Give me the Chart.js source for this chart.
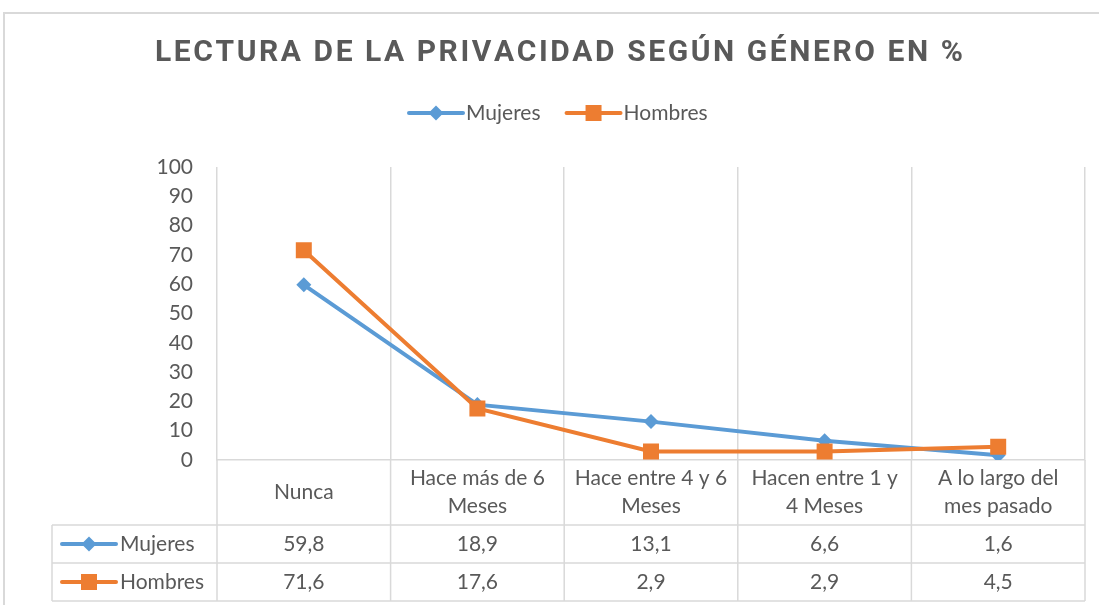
<!DOCTYPE html>
<html>
<head>
<meta charset="utf-8">
<script src="https://cdn.jsdelivr.net/npm/chart.js@4/dist/chart.umd.min.js"></script>
<style>
  body { margin: 0; background: #fff; }
  canvas { display: block; }
</style>
</head>
<body>
<canvas id="privChart" width="1099" height="605"></canvas>
<script>
const titleText = "LECTURA DE LA PRIVACIDAD SEGÚN GÉNERO EN %";
const categories = [
  "Nunca",
  ["Hace más de 6", "Meses"],
  ["Hace entre 4 y 6", "Meses"],
  ["Hacen entre 1 y", "4 Meses"],
  ["A lo largo del", "mes pasado"]
];
const seriesNames = ["Mujeres", "Hombres"];
const mujeres = [59.8, 18.9, 13.1, 6.6, 1.6];
const hombres = [71.6, 17.6, 2.9, 2.9, 4.5];
const yTicks = [0, 10, 20, 30, 40, 50, 60, 70, 80, 90, 100];

const textColor = "#595959";
const gridColor = "#d9d9d9";
const bodyFont = "'Lato', 'Open Sans', sans-serif";
const bodySize = 21;

function drawMarker(ctx, style, x, y, color) {
  ctx.save();
  ctx.fillStyle = color;
  ctx.beginPath();
  if (style === "rectRot") {
    const r = 7.5;
    ctx.moveTo(x, y - r);
    ctx.lineTo(x + r, y);
    ctx.lineTo(x, y + r);
    ctx.lineTo(x - r, y);
  } else {
    const s = 8;
    ctx.rect(x - s, y - s, s * 2, s * 2);
  }
  ctx.closePath();
  ctx.fill();
  ctx.restore();
}

// line + marker key, like the legend in the picture
function drawKey(ctx, ds, x, y) {
  ctx.save();
  ctx.strokeStyle = ds.borderColor;
  ctx.lineWidth = 4;
  ctx.lineCap = "round";
  ctx.beginPath();
  ctx.moveTo(x, y);
  ctx.lineTo(x + 54, y);
  ctx.stroke();
  ctx.restore();
  drawMarker(ctx, ds.pointStyle, x + 27, y, ds.borderColor);
}

const decorPlugin = {
  id: "decor",
  beforeDraw(chart) {
    const ctx = chart.ctx;
    // outer frame
    ctx.save();
    ctx.strokeStyle = gridColor;
    ctx.lineWidth = 2;
    ctx.beginPath();
    ctx.moveTo(4, 605);
    ctx.lineTo(4, 13);
    ctx.lineTo(1099, 13);
    ctx.stroke();
    ctx.restore();
  },
  afterDraw(chart) {
    const { ctx, chartArea, scales } = chart;
    const x = scales.x;
    const n = chart.data.labels.length;
    const colW = (chartArea.right - chartArea.left) / n;
    const headBottom = 525;
    const rowH = 38;
    const tableLeft = 52;
    const tableBottom = headBottom + rowH * 2;

    // title, spaced letters
    ctx.save();
    ctx.fillStyle = textColor;
    ctx.font = "bold 30px 'Liberation Sans Narrow', 'Roboto', sans-serif";
    ctx.textBaseline = "middle";
    const chars = Array.from(titleText);
    const widths = chars.map(c => ctx.measureText(c).width);
    const raw = widths.reduce((a, b) => a + b, 0);
    const target = 808;
    const spacing = (target - raw) / (chars.length - 1);
    let tx = 559 - target / 2;
    chars.forEach((c, i) => {
      ctx.fillText(c, tx, 53);
      tx += widths[i] + spacing;
    });
    ctx.restore();

    // top legend
    ctx.save();
    ctx.font = bodySize + "px " + bodyFont;
    ctx.fillStyle = textColor;
    ctx.textBaseline = "middle";
    let lx = 409;
    chart.data.datasets.forEach(ds => {
      drawKey(ctx, ds, lx, 113);
      ctx.fillText(ds.label, lx + 57, 113);
      lx += 57 + ctx.measureText(ds.label).width + 26;
    });
    ctx.restore();

    // table lines
    ctx.save();
    ctx.strokeStyle = gridColor;
    ctx.lineWidth = 1.5;
    ctx.beginPath();
    for (let i = 0; i <= n; i++) {
      const gx = chartArea.left + colW * i;
      ctx.moveTo(gx, chartArea.bottom);
      ctx.lineTo(gx, tableBottom);
    }
    ctx.moveTo(tableLeft, headBottom);
    ctx.lineTo(tableLeft, tableBottom);
    for (let r = 0; r <= 2; r++) {
      const ry = headBottom + rowH * r;
      ctx.moveTo(tableLeft, ry);
      ctx.lineTo(chartArea.right, ry);
    }
    ctx.stroke();
    ctx.restore();

    // header labels and values
    ctx.save();
    ctx.font = bodySize + "px " + bodyFont;
    ctx.fillStyle = textColor;
    ctx.textAlign = "center";
    ctx.textBaseline = "middle";
    const headMid = (chartArea.bottom + headBottom) / 2;
    chart.data.labels.forEach((lab, i) => {
      const cx = x.getPixelForValue(i);
      const lines = Array.isArray(lab) ? lab : [lab];
      const lh = 28;
      lines.forEach((ln, k) => {
        ctx.fillText(ln, cx, headMid + (k - (lines.length - 1) / 2) * lh);
      });
    });
    chart.data.datasets.forEach((ds, r) => {
      const ry = headBottom + rowH * r + rowH / 2;
      ds.data.forEach((v, i) => {
        ctx.fillText(v.toFixed(1).replace(".", ","), x.getPixelForValue(i), ry);
      });
    });
    ctx.textAlign = "left";
    chart.data.datasets.forEach((ds, r) => {
      const ry = headBottom + rowH * r + rowH / 2;
      drawKey(ctx, ds, 62, ry);
      ctx.fillText(ds.label, 120, ry);
    });
    ctx.restore();
  }
};

new Chart(document.getElementById("privChart"), {
  type: "line",
  data: {
    labels: categories,
    datasets: [
      {
        label: seriesNames[0],
        data: mujeres,
        borderColor: "#5b9bd5",
        backgroundColor: "#5b9bd5",
        borderWidth: 4,
        pointStyle: "rectRot",
        pointRadius: 7.5,
        pointBorderWidth: 0,
        order: 1
      },
      {
        label: seriesNames[1],
        data: hombres,
        borderColor: "#ed7d31",
        backgroundColor: "#ed7d31",
        borderWidth: 4,
        pointStyle: "rect",
        pointRadius: 11.3,
        pointBorderWidth: 0,
        order: 0
      }
    ]
  },
  options: {
    responsive: false,
    animation: false,
    layout: { padding: { top: 167, right: 14, left: 0, bottom: 0 } },
    plugins: {
      legend: { display: false },
      title: { display: false },
      tooltip: { enabled: false }
    },
    scales: {
      x: {
        offset: true,
        grid: { offset: true, color: gridColor, lineWidth: 1.5, drawTicks: false },
        border: { color: gridColor, width: 1.5 },
        ticks: { display: false },
        afterFit(scale) { scale.height = 145; }
      },
      y: {
        min: 0,
        max: 100,
        afterBuildTicks(scale) { scale.ticks = yTicks.map(v => ({ value: v })); },
        grid: { display: false, drawTicks: false },
        border: { display: false },
        ticks: {
          color: textColor,
          padding: 24,
          font: { family: bodyFont, size: bodySize }
        },
        afterFit(scale) { scale.width = 217; }
      }
    }
  },
  plugins: [decorPlugin]
});
</script>
</body>
</html>
